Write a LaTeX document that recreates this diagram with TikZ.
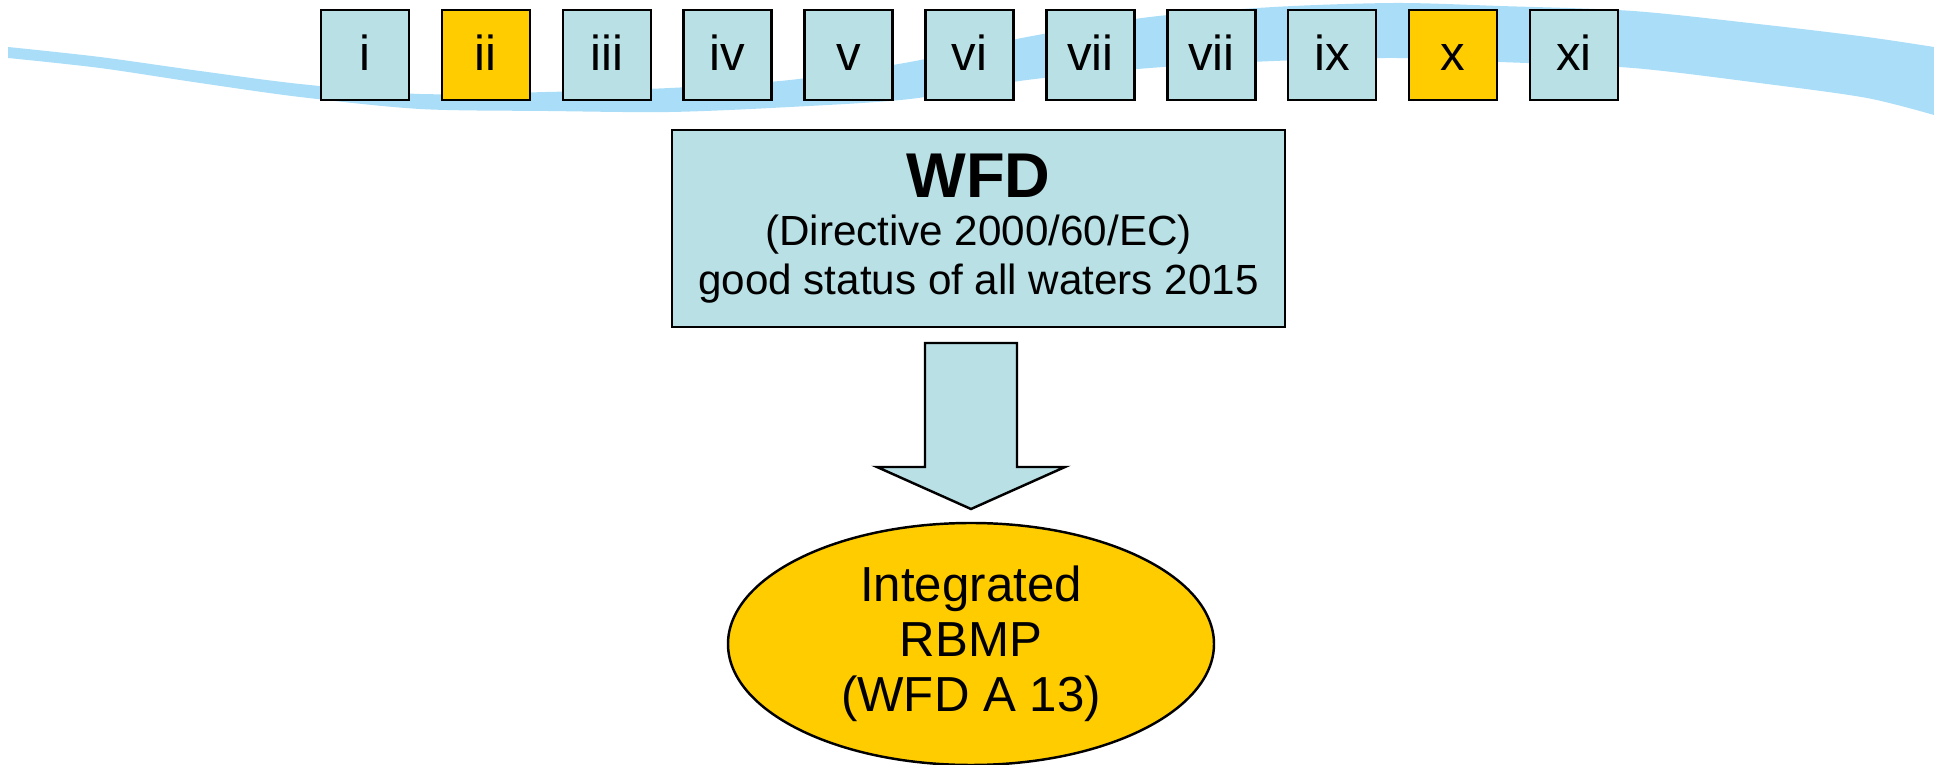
\documentclass[tikz,border=0pt]{standalone}
\usepackage{fontspec}
\setmainfont{Liberation Sans}
\usetikzlibrary{shapes.geometric}

\definecolor{boxblue}{RGB}{185,224,228}
\definecolor{gold}{RGB}{255,204,0}
\definecolor{wave}{RGB}{170,221,248}

\begin{document}
\begin{tikzpicture}[x=0.1mm, y=-0.1mm, node distance=12.09mm,
    tab/.style={draw, line width=0.7pt, fill=boxblue, minimum width=8.8mm, minimum height=9mm, inner sep=0pt, text height=8.6pt, text depth=0pt, font=\fontsize{14}{16}\selectfont},
    hot/.style={tab, fill=gold},
    wfdbox/.style={draw, line width=0.7pt, fill=boxblue, minimum width=61.3mm, minimum height=19.7mm, align=center, font=\fontsize{12}{13.7}\selectfont},
    plan/.style={ellipse, draw, line width=0.7pt, fill=gold, minimum width=48.6mm, minimum height=24.2mm, inner sep=0pt, align=center, font=\fontsize{14}{15.6}\selectfont},
    pointer/.style={draw, line width=0.7pt, fill=boxblue}]

    \useasboundingbox (0,0) rectangle (1934,765);

    % Wave behind the steps
    \fill [wave] plot [smooth] coordinates {(8,47) (100,57) (200,71) (300,84) (420,94) (547,92) (670,88) (790,80) (910,62) (1027,37) (1150,17) (1274,7) (1395,3) (1500,6) (1633,11) (1767,25) (1867,37) (1934,47)}
        -- plot [smooth] coordinates {(1934,115) (1867,98) (1767,84) (1633,68) (1500,62) (1395,58) (1274,61) (1150,68) (1027,80) (910,99) (790,107) (670,112) (547,111) (420,109) (300,97) (200,83) (100,68) (8,58)}
        -- cycle;

    % Nodes {s1, s2, ..., s11}
    \node [tab] (s1)                    at (365,55) {i};
    \node [hot] (s2)  [right of=s1]     {ii};
    \node [tab] (s3)  [right of=s2]     {iii};
    \node [tab] (s4)  [right of=s3]     {iv};
    \node [tab] (s5)  [right of=s4]     {v};
    \node [tab] (s6)  [right of=s5]     {vi};
    \node [tab] (s7)  [right of=s6]     {vii};
    \node [tab] (s8)  [right of=s7]     {vii};
    \node [tab] (s9)  [right of=s8]     {ix};
    \node [hot] (s10) [right of=s9]     {x};
    \node [tab] (s11) [right of=s10]    {xi};

    % Directive and plan
    \node [wfdbox] (wfd)  at (978.5,228.5) {{\fontsize{18}{20}\selectfont\bfseries WFD}\\(Directive 2000/60/EC)\\good status of all waters 2015};
    \node [plan]   (rbmp) at (971,644)     {Integrated\\RBMP\\(WFD A 13)};

    % Arrow
    \coordinate (shaft) at (971,343);
    \coordinate (tip)   at (971,509);
    \path [pointer] (shaft) ++(-46,0) -- ++(0,124) -- ++(-48,0) -- (tip) -- ++(94,-42) -- ++(-48,0) -- ++(0,-124) -- cycle;

\end{tikzpicture}
\end{document}
